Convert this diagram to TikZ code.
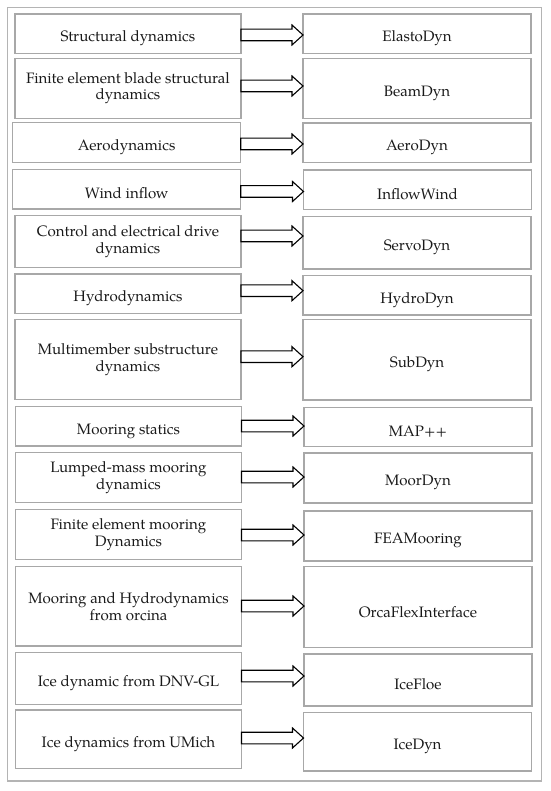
\documentclass[tikz,border=0pt]{standalone}
\usepackage{fontspec}
\setmainfont{texgyrepagella-regular.otf}
\usetikzlibrary{calc}
\definecolor{boxgray}{HTML}{A8A8A8}
\definecolor{framegray}{HTML}{B4B4B4}
\tikzset{
  box/.style={draw=boxgray, line width=1.2pt, align=center, inner sep=0pt, outer sep=0pt,
    font=\fontsize{15.1}{16.7}\selectfont, text=black!90,
    execute at begin node={\rule{0pt}{20pt}}},
  lbox/.style={box, minimum width=226pt},
  rbox/.style={box, minimum width=228pt},
  barrow/.style={draw=black, line width=1.1pt, fill=white, line join=miter},
  frame/.style={draw=framegray, line width=1.2pt}
}
\newcommand\blockarr[3]{%
  \draw[barrow] ($(#1.east |- 0,#3)+(0,-5.8)$) -- ($(#2.west |- 0,#3)+(-11,-5.8)$) -- ++(0,-4.2)
    -- (#2.west |- 0,#3) -- ++(-11,10) -- ++(0,-4.2) -- ($(#1.east |- 0,#3)+(0,5.8)$) -- cycle;}
\begin{document}
\begin{tikzpicture}[x=1pt,y=-1pt]
\useasboundingbox (0,0) rectangle (550,791);
\draw[frame] (7.3,7.3) rectangle (541.7,781);
% left column
\node[lbox, minimum height=39.3pt] (L1) at (128,33.65) {Structural dynamics};
\node[lbox, minimum height=60pt] (L2) at (128,88.3) {Finite element blade structural\\dynamics};
\node[lbox, minimum width=228pt, minimum height=40pt] (L3) at (126.7,142.7) {Aerodynamics};
\node[lbox, minimum width=228pt, minimum height=39.7pt] (L4) at (126.7,189.15) {Wind inflow};
\node[lbox, minimum height=52pt] (L5) at (128,241.7) {Control and electrical drive\\dynamics};
\node[lbox, minimum height=39.3pt] (L6) at (128,293.65) {Hydrodynamics};
\node[lbox, minimum height=80.2pt] (L7) at (128,359.4) {Multimember substructure\\dynamics};
\node[lbox, minimum height=39.3pt] (L8) at (128.5,426.35) {Mooring statics};
\node[lbox, minimum height=50pt] (L9) at (128.5,477.7) {Lumped-mass mooring\\dynamics};
\node[lbox, minimum height=50pt] (L10) at (128.5,534.3) {Finite element mooring\\Dynamics};
\node[lbox, minimum height=79.3pt] (L11) at (128.5,606.35) {Mooring and Hydrodynamics\\from orcina};
\node[lbox, minimum height=52pt] (L12) at (128.5,678.3) {Ice dynamic from DNV-GL};
\node[lbox, minimum height=58.3pt] (L13) at (128.5,739.15) {Ice dynamics from UMich};
% right column
\node[rbox, minimum height=39.3pt] (R1) at (417,33.65) {ElastoDyn};
\node[rbox, minimum height=59.7pt] (R2) at (417,88.3) {BeamDyn};
\node[rbox, minimum height=39.7pt] (R3) at (417,142.85) {AeroDyn};
\node[rbox, minimum height=39.5pt] (R4) at (417.5,189.75) {InflowWind};
\node[rbox, minimum height=52.3pt] (R5) at (417,242.85) {ServoDyn};
\node[rbox, minimum height=39.3pt] (R6) at (417,295.35) {HydroDyn};
\node[rbox, minimum height=80.7pt] (R7) at (417,359.65) {SubDyn};
\node[rbox, minimum height=39.4pt] (R8) at (418,427) {MAP++};
\node[rbox, minimum height=50pt] (R9) at (418,478) {MoorDyn};
\node[rbox, minimum height=50pt] (R10) at (418,536) {FEAMooring};
\node[rbox, minimum height=81pt] (R11) at (418,607.2) {OrcaFlexInterface};
\node[rbox, minimum height=52pt] (R12) at (418,680) {IceFloe};
\node[rbox, minimum height=58.3pt] (R13) at (417.5,741.85) {IceDyn};
% arrows
\blockarr{L1}{R1}{35}
\blockarr{L2}{R2}{86}
\blockarr{L3}{R3}{144}
\blockarr{L4}{R4}{191.5}
\blockarr{L5}{R5}{236}
\blockarr{L6}{R6}{290.7}
\blockarr{L7}{R7}{356.7}
\blockarr{L8}{R8}{426}
\blockarr{L9}{R9}{477}
\blockarr{L10}{R10}{535}
\blockarr{L11}{R11}{606}
\blockarr{L12}{R12}{676}
\blockarr{L13}{R13}{738}
\end{tikzpicture}
\end{document}
